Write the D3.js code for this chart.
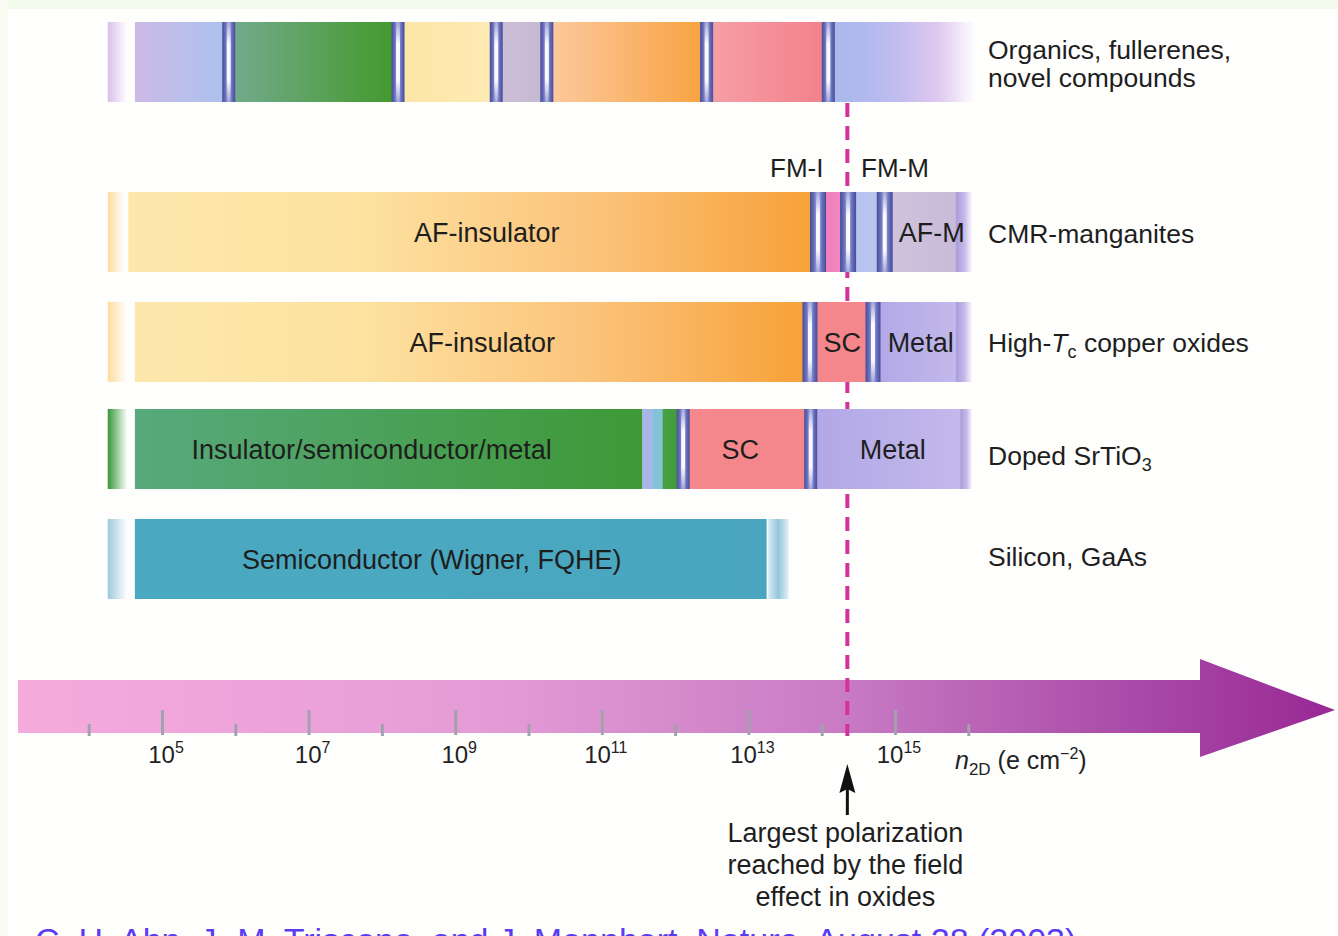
<!DOCTYPE html>
<html>
<head>
<meta charset="utf-8">
<script src="https://cdn.jsdelivr.net/npm/d3@7"></script>
<style>
  body { margin: 0; background: #ffffff; }
  svg { display: block; font-family: "Liberation Sans", Arial, sans-serif; }
</style>
</head>
<body>
<script>
// right-hand labels, one entry per row (parts allow italics / subscripts)
var materials = [
    [[{t: "Organics, fullerenes,"}], [{t: "novel compounds"}]],
    [[{t: "CMR-manganites"}]],
    [[{t: "High-"}, {t: "T", it: true}, {t: "c", sub: true}, {t: " copper oxides"}]],
    [[{t: "Doped SrTiO"}, {t: "3", sub: true}]],
    [[{t: "Silicon, GaAs"}]]
];

// phase ranges per row, in log10(n2D / e cm^-2)
var organicsPhases = [
    {from: 4.26, to: 4.52, c: "lavStrip"},
    {from: 4.63, to: 5.91, c: "lavBlue"},
    {from: 5.91, to: 8.22, c: "green1"},
    {from: 8.22, to: 9.56, c: "yellow"},
    {from: 9.56, to: 10.25, c: "greyLav"},
    {from: 10.25, to: 12.43, c: "orange"},
    {from: 12.43, to: 14.09, c: "salmon"},
    {from: 14.09, to: 16.09, c: "blueFade"}
];
var cmrPhases = [
    {from: 4.26, to: 4.48, c: "yellowStrip"},
    {from: 4.54, to: 13.95, c: "afIns"},
    {from: 13.95, to: 14.36, c: "magenta"},
    {from: 14.36, to: 14.86, c: "lightBlue"},
    {from: 14.86, to: 15.83, c: "greyLav2"},
    {from: 15.83, to: 16.05, c: "lavEnd"}
];
var cuprPhases = [
    {from: 4.26, to: 4.52, c: "yellowStrip"},
    {from: 4.63, to: 13.85, c: "afIns"},
    {from: 13.85, to: 14.70, c: "sc"},
    {from: 14.70, to: 15.83, c: "metal"},
    {from: 15.83, to: 16.05, c: "lavEnd"}
];
var srtioPhases = [
    {from: 4.26, to: 4.52, c: "greenStrip"},
    {from: 4.63, to: 11.55, c: "green2"},
    {from: 11.55, to: 11.70, c: "lavGap"},
    {from: 11.70, to: 11.83, c: "cyanGap"},
    {from: 11.83, to: 12.11, c: "green3"},
    {from: 12.11, to: 13.85, c: "sc"},
    {from: 13.85, to: 15.89, c: "metal"},
    {from: 15.89, to: 16.05, c: "lavEnd"}
];
var siliconPhases = [
    {from: 4.26, to: 4.52, c: "blueStrip"},
    {from: 4.63, to: 13.24, c: "teal"},
    {from: 13.27, to: 13.54, c: "tealEnd"}
];

// phase boundaries (separators) per row, log10 n
var organicsSeps = [5.91, 8.22, 9.56, 10.25, 12.43, 14.09];
var cmrSeps = [13.95, 14.36, 14.86];
var cuprSeps = [13.84, 14.70];
var srtioSeps = [12.11, 13.85];
var siliconSeps = [];

// labels inside bars
var phaseLabels = [
    {row: 1, text: "AF-insulator", e: 9.43},
    {row: 1, text: "AF-M", e: 15.50},
    {row: 2, text: "AF-insulator", e: 9.37},
    {row: 2, text: "SC", e: 14.28},
    {row: 2, text: "Metal", e: 15.35},
    {row: 3, text: "Insulator/semiconductor/metal", e: 7.86},
    {row: 3, text: "SC", e: 12.89},
    {row: 3, text: "Metal", e: 14.97},
    {row: 4, text: "Semiconductor (Wigner, FQHE)", e: 8.68}
];
var topLabels = [{text: "FM-I", e: 13.66}, {text: "FM-M", e: 15.0}];

// axis
var majorExps = [5, 7, 9, 11, 13, 15];
var minorExps = [4, 6, 8, 10, 12, 14, 16];
var fieldLimit = 14.35;   // largest polarization by field effect
var noteLines = ["Largest polarization", "reached by the field", "effect in oxides"];
var citation = "C. H. Ahn, J.-M. Triscone, and J. Mannhart, Nature, August 28 (2003)";

var palette = {
    lavStrip: ["#d9bfea", "#ffffff"],
    lavBlue: ["#cdb9e6", "#a8c3ee"],
    green1: ["#74aa90", "#42992a"],
    yellow: ["#fde5a6", "#feebb4"],
    greyLav: ["#cfc0d8", "#c3b7d0"],
    orange: ["#fccaa0", "#f8a23e"],
    salmon: ["#f6a0a6", "#f2808a"],
    blueFade: ["#a9b8ec", "#b0b9ee", "#c4bdee", "#e0c8f0", "#ffffff"],
    yellowStrip: ["#fddd9c", "#ffffff"],
    afIns: ["#fde8ac", "#fde2a0", "#fbc47c", "#f7a036"],
    magenta: ["#f07cba", "#f08ac2"],
    lightBlue: ["#b4c0ee", "#bcc6ef"],
    greyLav2: ["#cfc3dd", "#c7bbd8"],
    lavEnd: ["#a99cdb", "#c4b8e8", "#ffffff"],
    sc: ["#f5888c", "#f4868c"],
    metal: ["#b1a7e6", "#c3b9ec"],
    greenStrip: ["#389838", "#ffffff"],
    green2: ["#58a97c", "#3e9936"],
    lavGap: ["#aab6e6", "#a4b8e4"],
    cyanGap: ["#7cc2d6", "#86c4d8"],
    green3: ["#48a042", "#3f9a38"],
    blueStrip: ["#9fc9dc", "#ffffff"],
    teal: ["#4aa9c1", "#4aa6bf"],
    tealEnd: ["#d8eaf2", "#94c6dc", "#e2f0f6"]
};

var W = 1338, H = 936;
var rowTop = [22, 192, 302, 409, 519], rowH = 80;
var labelX = 988;

var svg = d3.select("body").append("svg").attr("width", W).attr("height", H);
var defs = svg.append("defs");

var x = d3.scaleLog().domain([1e4, 1e16]).range([88.7, 968.3]);
function xe(e) { return x(Math.pow(10, e)); }

function grad(id, stops, vertical) {
    var g = defs.append("linearGradient").attr("id", id)
        .attr("x1", 0).attr("y1", 0)
        .attr("x2", vertical ? 0 : 1).attr("y2", vertical ? 1 : 0);
    stops.forEach(function(c, i) {
        g.append("stop").attr("offset", i / (stops.length - 1)).attr("stop-color", c);
    });
    return g;
}
Object.keys(palette).forEach(function(k) { grad("g-" + k, palette[k]); });
grad("sepGrad", ["#464b9b", "#6a70bb", "#aeb2e2", "#6a70bb", "#464b9b"]);
var hi = defs.append("linearGradient").attr("id", "sepHi")
    .attr("x1", 0).attr("y1", 0).attr("x2", 0).attr("y2", 1);
[[0, 0], [0.28, 0.95], [0.72, 0.95], [1, 0]].forEach(function(s) {
    hi.append("stop").attr("offset", s[0]).attr("stop-color", "#ffffff").attr("stop-opacity", s[1]);
});
var ag = defs.append("linearGradient").attr("id", "arrowGrad")
    .attr("gradientUnits", "userSpaceOnUse")
    .attr("x1", 18).attr("y1", 0).attr("x2", 1335).attr("y2", 0);
[[0, "#f6abde"], [0.35, "#e59cd6"], [0.62, "#c97cc4"], [0.85, "#a94aa8"], [1, "#992894"]].forEach(function(s) {
    ag.append("stop").attr("offset", s[0]).attr("stop-color", s[1]);
});

// background
svg.append("rect").attr("width", W).attr("height", H).attr("fill", "#fefefd");
svg.append("rect").attr("width", W).attr("height", 9).attr("fill", "#f3fbec");
svg.append("rect").attr("width", 8).attr("height", H).attr("fill", "#f8fcf2");

// density arrow (the axis)
var ay = 707, shaftHalf = 27, headHalf = 48, headX = 1200, tipX = 1335, tailX = 18;
svg.append("path")
    .attr("d", "M" + tailX + "," + (ay - shaftHalf) + "H" + headX + "V" + (ay - headHalf) +
        "L" + tipX + "," + (ay + 3) + "L" + headX + "," + (ay + headHalf + 2) +
        "V" + (ay + shaftHalf - 1) + "H" + tailX + "Z")
    .attr("fill", "url(#arrowGrad)");

var majorAxis = svg.append("g").attr("transform", "translate(0,710)")
    .call(d3.axisBottom(x).tickValues(majorExps.map(function(e) { return Math.pow(10, e); }))
        .tickSize(25).tickFormat(""));
var minorAxis = svg.append("g").attr("transform", "translate(0,724)")
    .call(d3.axisBottom(x).tickValues(minorExps.map(function(e) { return Math.pow(10, e); }))
        .tickSize(12).tickFormat(""));
[majorAxis, minorAxis].forEach(function(a) {
    a.select(".domain").remove();
    a.selectAll(".tick line").attr("stroke", "#a2a2ae").attr("stroke-width", 3);
});

// tick labels 10^n
var tl = svg.append("g").selectAll("text").data(majorExps).enter().append("text")
    .attr("x", function(e) { return xe(e) + 4; })
    .attr("y", 763)
    .attr("text-anchor", "middle")
    .attr("fill", "#222")
    .style("font-size", "24px");
tl.append("tspan").text("10");
tl.append("tspan").attr("dy", -10).style("font-size", "16px").text(function(e) { return e; });

// axis title
var at = svg.append("text").attr("x", 955).attr("y", 769).attr("fill", "#222").style("font-size", "25px");
at.append("tspan").style("font-style", "italic").text("n");
at.append("tspan").attr("dy", 6).style("font-size", "17px").text("2D");
at.append("tspan").attr("dy", -6).text(" (e cm");
at.append("tspan").attr("dy", -10).style("font-size", "16px").text("\u22122");
at.append("tspan").attr("dy", 10).text(")");

// dashed limit line (under the bars)
svg.append("line")
    .attr("x1", xe(fieldLimit)).attr("x2", xe(fieldLimit))
    .attr("y1", 103).attr("y2", 736)
    .attr("stroke", "#d3329a").attr("stroke-width", 4)
    .attr("stroke-dasharray", "14,9");

// bars
var rows = [organicsPhases, cmrPhases, cuprPhases, srtioPhases, siliconPhases];
var seps = [organicsSeps, cmrSeps, cuprSeps, srtioSeps, siliconSeps];
var sepW = [13, 16, 15, 13, 0];

rows.forEach(function(phases, i) {
    var g = svg.append("g").attr("class", "row");
    g.selectAll("rect.phase").data(phases).enter().append("rect")
        .attr("class", "phase")
        .attr("x", function(d) { return xe(d.from); })
        .attr("width", function(d) { return xe(d.to) - xe(d.from) + 0.6; })
        .attr("y", rowTop[i]).attr("height", rowH)
        .attr("fill", function(d) { return "url(#g-" + d.c + ")"; });
    g.selectAll("rect.sep").data(seps[i]).enter().append("rect")
        .attr("class", "sep")
        .attr("x", function(e) { return xe(e) - sepW[i] / 2; })
        .attr("width", sepW[i])
        .attr("y", rowTop[i]).attr("height", rowH)
        .attr("fill", "url(#sepGrad)");
    g.selectAll("rect.hi").data(seps[i]).enter().append("rect")
        .attr("class", "hi")
        .attr("x", function(e) { return xe(e) - 2; })
        .attr("width", 4)
        .attr("y", rowTop[i]).attr("height", rowH)
        .attr("fill", "url(#sepHi)");
});

// labels in bars
svg.append("g").selectAll("text").data(phaseLabels).enter().append("text")
    .attr("x", function(d) { return xe(d.e); })
    .attr("y", function(d) { return rowTop[d.row] + rowH / 2 + 10; })
    .attr("text-anchor", "middle")
    .attr("fill", "#1e1e1e")
    .style("font-size", "27px")
    .text(function(d) { return d.text; });

svg.append("g").selectAll("text").data(topLabels).enter().append("text")
    .attr("x", function(d) { return xe(d.e); })
    .attr("y", 177)
    .attr("text-anchor", "middle")
    .attr("fill", "#1e1e1e")
    .style("font-size", "26px")
    .text(function(d) { return d.text; });

// material labels on the right
var labelBase = [59, 243, 352, 465, 566];
materials.forEach(function(lines, i) {
    lines.forEach(function(parts, j) {
        var t = svg.append("text").attr("x", labelX).attr("y", labelBase[i] + j * 28)
            .attr("fill", "#1e1e1e").style("font-size", "26.5px");
        var shift = 0;
        parts.forEach(function(p) {
            var s = t.append("tspan").text(p.t);
            var want = p.sub ? 6 : 0;
            if (want !== shift) { s.attr("dy", want - shift); shift = want; }
            if (p.sub) s.style("font-size", "18px");
            if (p.it) s.style("font-style", "italic");
        });
    });
});

// field-effect arrow and note
var fx = xe(fieldLimit);
svg.append("line").attr("x1", fx).attr("x2", fx).attr("y1", 815).attr("y2", 785)
    .attr("stroke", "#111").attr("stroke-width", 3);
svg.append("path")
    .attr("d", "M" + fx + ",764L" + (fx - 8) + ",793L" + fx + ",789L" + (fx + 8) + ",793Z")
    .attr("fill", "#111");
svg.append("g").selectAll("text").data(noteLines).enter().append("text")
    .attr("x", fx - 2)
    .attr("y", function(d, i) { return 842 + i * 32; })
    .attr("text-anchor", "middle")
    .attr("fill", "#1e1e1e")
    .style("font-size", "27px")
    .text(function(d) { return d; });

// citation (cut off at the bottom edge, as in the source slide)
svg.append("text").attr("x", 35).attr("y", 952)
    .attr("fill", "#5b3cf2").style("font-size", "34px")
    .text(citation);
</script>
</body>
</html>
